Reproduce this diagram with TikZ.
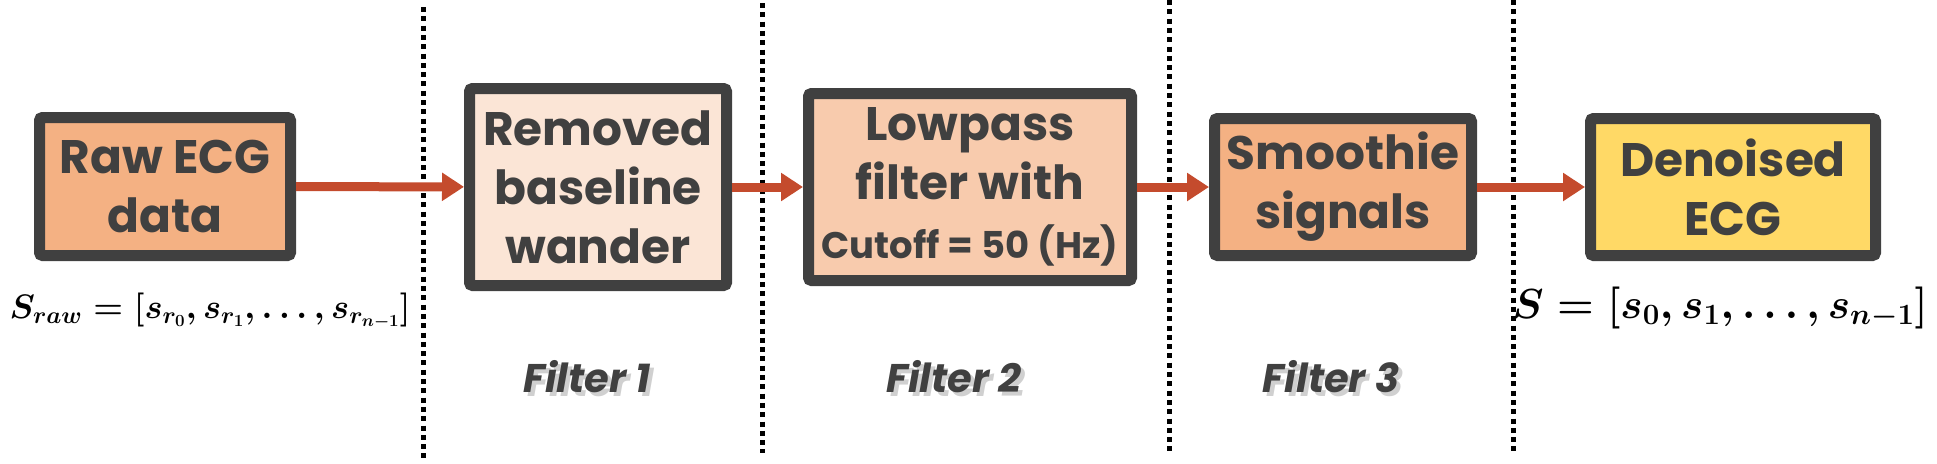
\RequirePackage{fix-cm}
\documentclass[tikz,border=0pt]{standalone}
\usepackage[no-math]{fontspec}
\setmainfont{Poppins}
\usepackage{amsmath}
\usetikzlibrary{arrows.meta}

\definecolor{boxgray}{HTML}{404040}
\definecolor{rawfill}{HTML}{F4B183}
\definecolor{wanderfill}{HTML}{FBE5D6}
\definecolor{lowfill}{HTML}{F8CBAD}
\definecolor{outfill}{HTML}{FFD966}
\definecolor{flowred}{HTML}{C44B2D}
\definecolor{shadowgray}{HTML}{D0D0D0}

\newcommand\boxfont{\fontsize{47}{59}\selectfont\bfseries}
\newcommand\cutfont{\fontsize{37}{50}\selectfont}
\newcommand\stagefont{\fontsize{40}{48}\selectfont\bfseries\itshape}
\newcommand\shadowed[1]{\makebox[0pt][l]{\hspace{4pt}\raisebox{-4pt}{\textcolor{shadowgray}{#1}}}#1}

\tikzset{
  block/.style={draw=boxgray, line width=11pt, rounded corners=3pt,
    text=boxgray, font=\boxfont, align=center, inner sep=0pt},
  flow/.style={draw=flowred, line width=9pt,
    arrows={-Triangle[length=22pt,width=27pt]}},
  divider/.style={draw=black, line width=5pt, dash pattern=on 5pt off 4.3pt},
  stage/.style={text=boxgray, font=\stagefont, anchor=base},
  signal/.style={font=\fontsize{#1}{#1}\selectfont\boldmath, anchor=base}
}

\begin{document}
\begin{tikzpicture}[x=1pt, y=-1pt]
\useasboundingbox (0,0) rectangle (1937,463);

% separators between the filter stages
\coordinate (cut1top) at (423.5,7);  \coordinate (cut1bot) at (423.5,459);
\coordinate (cut2top) at (762,3);    \coordinate (cut2bot) at (762,453);
\coordinate (cut3top) at (1169.5,0); \coordinate (cut3bot) at (1169.5,451);
\coordinate (cut4top) at (1513,0);   \coordinate (cut4bot) at (1513,451);
\draw[divider] (cut1top) -- (cut1bot);
\draw[divider] (cut2top) -- (cut2bot);
\draw[divider] (cut3top) -- (cut3bot);
\draw[divider] (cut4top) -- (cut4bot);

\node[block, fill=rawfill, minimum width=251pt, minimum height=138pt]
  at (165,186.5) (raw) {Raw ECG\\data};
\node[block, fill=wanderfill, minimum width=257pt, minimum height=197pt]
  at (598,187) (wander) {Removed\\baseline\\wander};
\node[block, fill=lowfill, minimum width=323pt, minimum height=187pt]
  at (970,187) (lowpass) {Lowpass\\filter with\\{\cutfont Cutoff = 50 (Hz)}};
\node[block, fill=rawfill, minimum width=257pt, minimum height=137pt]
  at (1343,187) (smooth) {Smoothie\\signals};
\node[block, fill=outfill, minimum width=285pt, minimum height=137pt]
  at (1733,187) (denoised) {Denoised\\ECG};

\draw[flow] (raw) to (wander);
\draw[flow] (wander) to (lowpass);
\draw[flow] (lowpass) to (smooth);
\draw[flow] (smooth) to (denoised);

\node[signal=34] at (210,318) (rawsig)
  {$S_{raw} = [s_{r_0}, s_{r_1}, \ldots, s_{r_{n-1}}]$};
\node[signal=42] at (1720,318) (cleansig)
  {$S = [s_0, s_1, \ldots, s_{n-1}]$};

\node[stage] at (587,392) (stage1) {\shadowed{Filter 1}};
\node[stage] at (954,392) (stage2) {\shadowed{Filter 2}};
\node[stage] at (1331,392) (stage3) {\shadowed{Filter 3}};
\end{tikzpicture}
\end{document}
